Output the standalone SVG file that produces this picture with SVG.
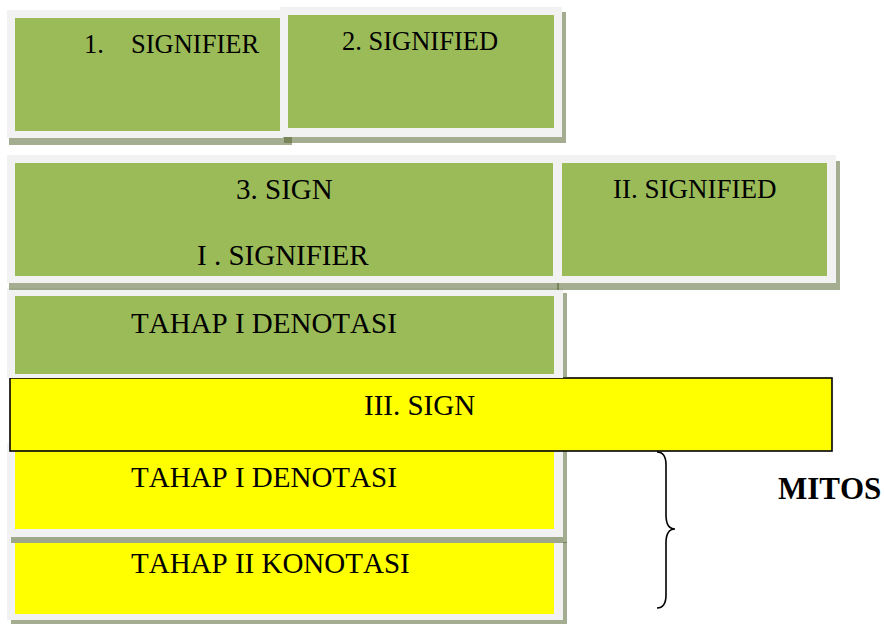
<svg xmlns="http://www.w3.org/2000/svg" width="884" height="624" viewBox="0 0 884 624">
  <style>
    .frame { fill: #f2f2f2; }
    .shadow { fill: #4b5b21; fill-opacity: 0.5; }
    .green { fill: #9bbb59; }
    .yellow { fill: #ffff00; }
    .label { font-family: "Liberation Serif", "Times New Roman", serif; font-kerning: none; fill: #000000; }
    .brace { fill: none; stroke: #000000; stroke-width: 1.6; }
  </style>
  <rect width="884" height="624" fill="#ffffff"/>

  <!-- lower boxes first so the shadows of the boxes above fall on them -->
  <g id="tahap2-konotasi">
    <rect class="shadow" x="11" y="542" width="556" height="82"/>
    <rect class="frame" x="7" y="537" width="556" height="83"/>
    <rect class="yellow" x="15" y="543" width="539" height="71"/>
    <text class="label" x="131" y="573" font-size="29">TAHAP II KONOTASI</text>
  </g>

  <g id="tahap1-denotasi-yellow">
    <rect class="shadow" x="11" y="448" width="556" height="95"/>
    <rect class="frame" x="7" y="443" width="556" height="94"/>
    <rect class="yellow" x="15" y="450" width="539" height="79"/>
    <text class="label" x="131" y="487" font-size="29">TAHAP I DENOTASI</text>
  </g>

  <g id="sign-3">
    <rect x="10" y="378" width="822" height="73" fill="#ffff00" stroke="#000000" stroke-width="1.6"/>
    <text class="label" x="364" y="415" font-size="29">III. SIGN</text>
  </g>

  <g id="tahap1-denotasi-green">
    <rect class="shadow" x="11" y="293" width="556" height="85"/>
    <rect class="frame" x="7" y="288" width="556" height="90"/>
    <rect class="green" x="15" y="296" width="539" height="78"/>
    <text class="label" x="131" y="333" font-size="29">TAHAP I DENOTASI</text>
  </g>

  <g id="sign-signifier">
    <rect class="shadow" x="9" y="160" width="550" height="130"/>
    <rect class="frame" x="7" y="155" width="550" height="128"/>
    <rect class="green" x="15" y="163" width="539" height="113"/>
    <text class="label" x="236" y="199" font-size="29">3. SIGN</text>
    <text class="label" x="197" y="265" font-size="29">I . SIGNIFIER</text>
  </g>

  <g id="signified-2">
    <rect class="shadow" x="557" y="161" width="283" height="129"/>
    <rect class="frame" x="553" y="155" width="283" height="128"/>
    <rect class="green" x="562" y="163" width="265" height="113"/>
    <text class="label" x="613" y="198" font-size="27">II. SIGNIFIED</text>
  </g>

  <g id="signifier">
    <rect class="shadow" x="9" y="14" width="283" height="131"/>
    <rect class="frame" x="7" y="10" width="276" height="128"/>
    <rect class="green" x="15" y="18" width="268" height="113"/>
    <text class="label" x="84" y="53" font-size="26.5">1.</text>
    <text class="label" x="131" y="53" font-size="26.5">SIGNIFIER</text>
  </g>

  <g id="signified">
    <rect class="shadow" x="284" y="12" width="282" height="131"/>
    <rect class="frame" x="280" y="7" width="282" height="130"/>
    <rect class="green" x="288" y="15" width="266" height="113"/>
    <text class="label" x="342" y="50" font-size="26.5">2. SIGNIFIED</text>
  </g>

  <g id="connectors">
    <path class="brace" d="M657,452 C664,452 666,457 666,465 L666,515 C666,524 669,529 675,529 C669,529 666,534 666,543 L666,595 C666,603 664,608 657,608"/>
  </g>

  <g id="mitos">
    <text class="label" x="778" y="499" font-size="31" font-weight="bold">MITOS</text>
  </g>
</svg>
